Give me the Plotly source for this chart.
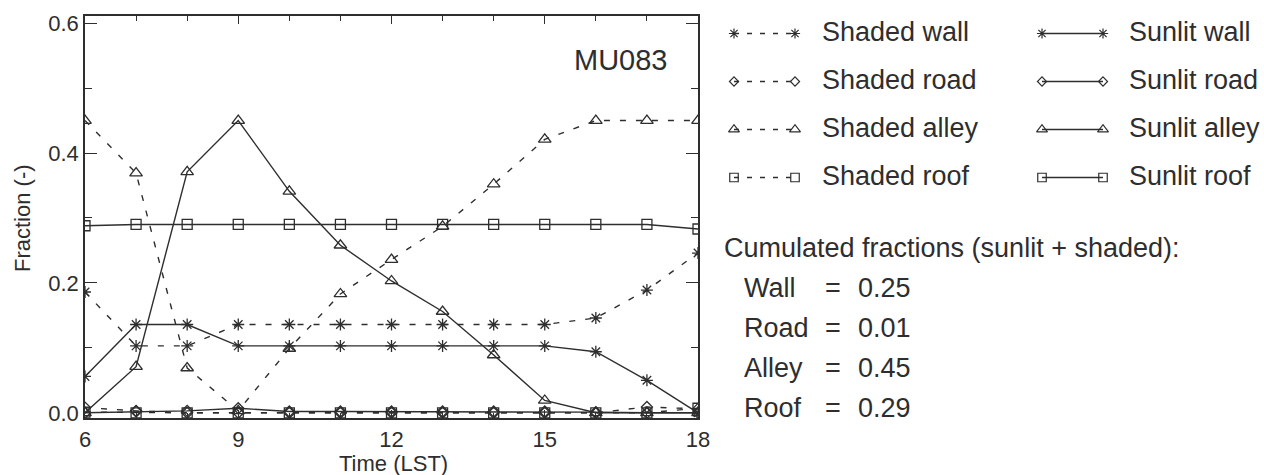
import plotly.graph_objects as go

# ---------------- data ----------------
hours = [6, 7, 8, 9, 10, 11, 12, 13, 14, 15, 16, 17, 18]

shaded_wall = [0.186, 0.103, 0.103, 0.136, 0.136, 0.136, 0.136, 0.136, 0.136, 0.136, 0.146, 0.189, 0.246]
sunlit_wall = [0.056, 0.136, 0.136, 0.103, 0.103, 0.103, 0.103, 0.103, 0.103, 0.103, 0.094, 0.050, 0.000]
shaded_road = [0.008, 0.003, 0.000, 0.000, 0.000, 0.000, 0.000, 0.000, 0.000, 0.000, 0.000, 0.009, 0.006]
sunlit_road = [0.000, 0.002, 0.003, 0.007, 0.002, 0.002, 0.002, 0.002, 0.002, 0.002, 0.001, 0.000, 0.000]
shaded_alley = [0.450, 0.369, 0.069, 0.003, 0.099, 0.183, 0.236, 0.287, 0.352, 0.421, 0.450, 0.450, 0.450]
sunlit_alley = [0.000, 0.071, 0.371, 0.450, 0.341, 0.258, 0.203, 0.156, 0.089, 0.019, 0.000, 0.000, 0.000]
shaded_roof = [0.001, 0.000, 0.000, 0.000, 0.000, 0.000, 0.000, 0.000, 0.000, 0.000, 0.000, 0.000, 0.007]
sunlit_roof = [0.288, 0.290, 0.290, 0.290, 0.290, 0.290, 0.290, 0.290, 0.290, 0.290, 0.290, 0.290, 0.283]

x_ticks = [6, 9, 12, 15, 18]
y_ticks = [0.0, 0.2, 0.4, 0.6]

site_label = "MU083"
cumulated_title = "Cumulated fractions (sunlit + shaded):"
cumulated_names = ["Wall", "Road", "Alley", "Roof"]
cumulated_values = ["0.25", "0.01", "0.45", "0.29"]

# ---------------- styles ----------------
W, H = 1264, 475
INK = "#2e2e2e"
FONT = "Liberation Sans, Arial, Helvetica, sans-serif"
DASH_PLOT = "6px,10px"
DASH_LEG = "5px,8px"

series = [
    ("Shaded wall", shaded_wall, "asterisk-open", 10, True),
    ("Shaded road", shaded_road, "diamond-open", 8.5, True),
    ("Shaded alley", shaded_alley, "triangle-up-open", 11, True),
    ("Shaded roof", shaded_roof, "square-open", 10, True),
    ("Sunlit wall", sunlit_wall, "asterisk-open", 10, False),
    ("Sunlit road", sunlit_road, "diamond-open", 8.5, False),
    ("Sunlit alley", sunlit_alley, "triangle-up-open", 11, False),
    ("Sunlit roof", sunlit_roof, "square-open", 10, False),
]

# plot area in pixels
PX_L, PX_R, PX_T, PX_B = 85, 698, 16, 418


def fx(px):
    return px / W


def fy(py):
    return 1 - py / H


fig = go.Figure()

for name, vals, sym, size, dashed in series:
    fig.add_trace(go.Scatter(
        x=hours, y=vals, mode="lines+markers", name=name, showlegend=False,
        line=dict(color=INK, width=1.4, dash=DASH_PLOT if dashed else "solid"),
        marker=dict(symbol=sym, size=size, color=INK, line=dict(color=INK, width=1.3)),
        xaxis="x", yaxis="y",
    ))

# ---------------- custom legend (two columns, marker at both ends) ----------------
leg_rows_y = 32
leg_row_step = 48
leg_cols = [(734, 795, 820), (1042, 1103, 1127)]
annotations = []
for i, (name, vals, sym, size, dashed) in enumerate(series):
    col = 0 if dashed else 1
    row = i % 4
    x0, x1, xt = leg_cols[col]
    yy = leg_rows_y + row * leg_row_step
    fig.add_trace(go.Scatter(
        x=[x0, x1], y=[yy + 1.5, yy + 1.5], mode="lines+markers", showlegend=False,
        line=dict(color=INK, width=1.3, dash=DASH_LEG if dashed else "solid"),
        marker=dict(symbol=sym, size=size - 1.5, color=INK, line=dict(color=INK, width=1.2)),
        xaxis="x2", yaxis="y2", hoverinfo="skip",
    ))
    annotations.append(dict(text=name, x=fx(xt), y=fy(yy), xref="paper", yref="paper",
                            xanchor="left", yanchor="middle", showarrow=False,
                            font=dict(size=27, color=INK, family=FONT)))

# cumulated fractions block
annotations.append(dict(text=cumulated_title, x=fx(722), y=fy(248), xref="paper", yref="paper",
                        xanchor="left", yanchor="middle", showarrow=False,
                        font=dict(size=27, color=INK, family=FONT)))
for k, (nm, val) in enumerate(zip(cumulated_names, cumulated_values)):
    yy = 288 + 40 * k
    for txt, xp in ((nm, 742), ("=", 823), (val, 856)):
        annotations.append(dict(text=txt, x=fx(xp), y=fy(yy), xref="paper", yref="paper",
                                xanchor="left", yanchor="middle", showarrow=False,
                                font=dict(size=27, color=INK, family=FONT)))

# site label
annotations.append(dict(text=site_label, x=fx(670), y=fy(60), xref="paper", yref="paper",
                        xanchor="right", yanchor="middle", showarrow=False,
                        font=dict(size=29, color=INK, family=FONT)))
# axis titles
annotations.append(dict(text="Time (LST)", x=fx(393), y=fy(463), xref="paper", yref="paper",
                        xanchor="center", yanchor="middle", showarrow=False,
                        font=dict(size=22, color=INK, family=FONT)))
annotations.append(dict(text="Fraction (-)", x=fx(23), y=fy(218), xref="paper", yref="paper",
                        xanchor="center", yanchor="middle", showarrow=False, textangle=-90,
                        font=dict(size=22, color=INK, family=FONT)))

fig.update_layout(
    width=W, height=H,
    margin=dict(l=0, r=0, t=0, b=0),
    paper_bgcolor="white", plot_bgcolor="rgba(0,0,0,0)",
    font=dict(family=FONT, color=INK),
    xaxis=dict(domain=[fx(PX_L), fx(PX_R)], range=[6, 18], tickvals=x_ticks,
               ticks="inside", ticklen=8, tickwidth=1.3, tickcolor=INK,
               minor=dict(ticks="inside", dtick=1, tick0=6, ticklen=5, tickwidth=1.3, tickcolor=INK),
               showline=True, linecolor=INK, linewidth=1.6, mirror="ticks",
               showgrid=False, zeroline=False, automargin=False, ticklabelstandoff=1,
               tickfont=dict(size=22, color=INK, family=FONT)),
    yaxis=dict(domain=[fy(PX_B), fy(PX_T)], range=[-0.008, 0.611], tickvals=y_ticks,
               tickformat=".1f",
               ticks="inside", ticklen=12, tickwidth=1.3, tickcolor=INK,
               minor=dict(ticks="inside", dtick=0.1, tick0=0, ticklen=7, tickwidth=1.3, tickcolor=INK),
               showline=True, linecolor=INK, linewidth=1.6, mirror="ticks",
               showgrid=False, zeroline=False, automargin=False,
               tickfont=dict(size=22, color=INK, family=FONT)),
    xaxis2=dict(domain=[0, 1], range=[0, W], visible=False, anchor="y2", fixedrange=True),
    yaxis2=dict(domain=[0, 1], range=[H, 0], visible=False, anchor="x2", fixedrange=True),
    annotations=annotations,
    showlegend=False,
)

fig.write_html("out.html", config={"displayModeBar": False},
               post_script="document.body.style.margin='0';document.body.style.overflow='hidden';")
